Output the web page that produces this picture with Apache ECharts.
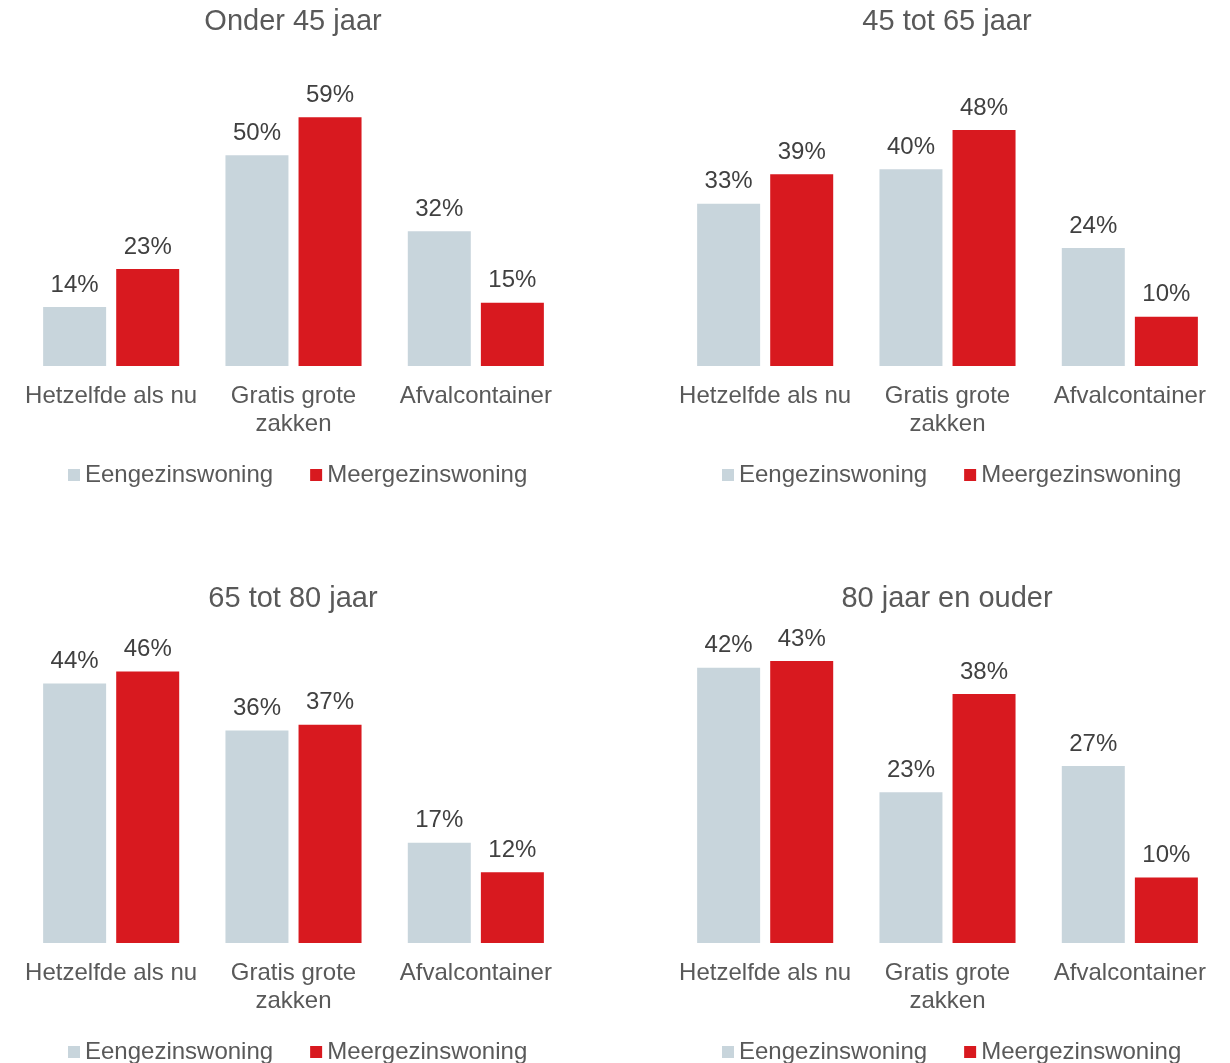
<!DOCTYPE html>
<html>
<head>
<meta charset="utf-8">
<script src="https://cdn.jsdelivr.net/npm/echarts@6/dist/echarts.min.js"></script>
<style>
    html, body { margin: 0; padding: 0; background: #ffffff; }
    #chart { width: 1230px; height: 1063px; }
</style>
</head>
<body>
<div id="chart"></div>
<script>
// data
const categories = ['Hetzelfde als nu', 'Gratis grote\nzakken', 'Afvalcontainer'];
const panelTitles = ['Onder 45 jaar', '45 tot 65 jaar', '65 tot 80 jaar', '80 jaar en ouder'];
const seriesNames = ['Eengezinswoning', 'Meergezinswoning'];
const eengezins = [
    [14, 50, 32],
    [33, 40, 24],
    [44, 36, 17],
    [42, 23, 27]
];
const meergezins = [
    [23, 59, 15],
    [39, 48, 10],
    [46, 37, 12],
    [43, 38, 10]
];
const axisMax = [70, 60, 50, 45];

const colors = ['#c8d5dc', '#d8191f'];
const font = 'Liberation Sans, Arial, sans-serif';

// panel offsets
const panelX = [0, 654, 0, 654];
const panelY = [0, 0, 577, 577];

let titles = [], grids = [], xAxes = [], yAxes = [], legends = [], series = [];

for (let i = 0; i < 4; i++) {
    const px = panelX[i], py = panelY[i];
    titles.push({
        text: panelTitles[i],
        left: px + 293,
        top: py + 7,
        padding: 0,
        textAlign: 'center',
        textStyle: { fontFamily: font, fontSize: 29, fontWeight: 'normal', color: '#595959' }
    });
    grids.push({ left: px + 20, top: py + 71, width: 547, height: 295 });
    xAxes.push({
        type: 'category',
        gridIndex: i,
        data: categories,
        axisLine: { show: false },
        axisTick: { show: false },
        axisLabel: {
            interval: 0,
            margin: 16,
            fontFamily: font,
            fontSize: 24,
            lineHeight: 28,
            color: '#595959'
        }
    });
    yAxes.push({
        type: 'value',
        gridIndex: i,
        min: 0,
        max: axisMax[i],
        show: false,
        splitLine: { show: false }
    });
    legends.push({
        data: seriesNames,
        left: px + 63,
        top: py + 458,
        icon: 'rect',
        itemWidth: 12,
        itemHeight: 12,
        itemGap: 37,
        textStyle: { fontFamily: font, fontSize: 24, color: '#595959' }
    });
    const vals = [eengezins[i], meergezins[i]];
    for (let s = 0; s < 2; s++) {
        series.push({
            name: seriesNames[s],
            type: 'bar',
            xAxisIndex: i,
            yAxisIndex: i,
            data: vals[s],
            barWidth: 63,
            barGap: '16%',
            itemStyle: { color: colors[s] },
            label: {
                show: true,
                position: 'top',
                distance: 10,
                formatter: '{c}%',
                fontFamily: font,
                fontSize: 24,
                color: '#404040'
            }
        });
    }
}

const eChart = echarts.init(document.getElementById('chart'));
eChart.setOption({
    animation: false,
    title: titles,
    grid: grids,
    xAxis: xAxes,
    yAxis: yAxes,
    legend: legends,
    series: series
});
</script>
</body>
</html>
